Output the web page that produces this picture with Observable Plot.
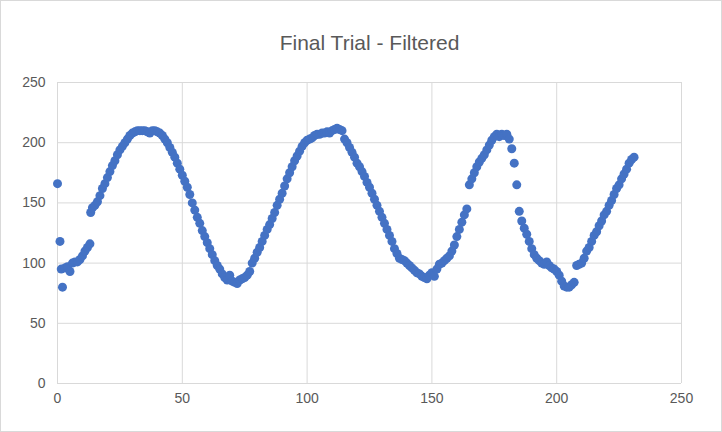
<!DOCTYPE html>
<html>
<head>
<meta charset="utf-8">
<script src="https://cdn.jsdelivr.net/npm/d3@7"></script>
<script src="https://cdn.jsdelivr.net/npm/@observablehq/plot@0.6"></script>
<style>
  body { margin: 0; background: #fff; }
  #chart { width: 720px; height: 430px; border: 1px solid #d9d9d9; }
</style>
</head>
<body>
<div id="chart"></div>
<script>
const title = "Final Trial - Filtered";
const xTicks = [0, 50, 100, 150, 200, 250];
const yTicks = [0, 50, 100, 150, 200, 250];

// sample index and filtered reading
const xs = [0, 1, 1.5, 2, 3, 4, 5, 6, 7, 8, 9, 10, 11, 12, 13, 13.3, 14, 15, 16, 17, 18, 19, 20,
  21, 22, 23, 24, 25, 26, 27, 28, 29, 30, 31, 32, 33, 34, 35, 36, 37, 38, 39, 40,
  41, 42, 43, 44, 45, 46, 47, 48, 49, 50, 51, 52, 53, 54, 55, 56, 57, 58, 59, 60,
  61, 62, 63, 64, 65, 66, 67, 68, 69, 70, 71, 72, 73, 74, 75, 76, 77, 78, 79, 80,
  81, 82, 83, 84, 85, 86, 87, 88, 89, 90, 91, 92, 93, 94, 95, 96, 97, 98, 99, 100,
  101, 102, 103, 104, 105, 106, 107, 108, 109, 110, 111, 112, 113, 114, 115, 116, 117, 118, 119, 120,
  121, 122, 123, 124, 125, 126, 127, 128, 129, 130, 131, 132, 133, 134, 135, 136, 137, 138, 139, 140,
  141, 142, 143, 144, 145, 146, 147, 148, 149, 150, 151, 152, 153, 154, 155, 156, 157, 158, 159, 160,
  161, 162, 163, 164, 165, 166, 167, 168, 169, 170, 171, 172, 173, 174, 175, 176, 177, 178, 179, 180,
  181, 182, 183, 184, 185, 186, 187, 188, 189, 190, 191, 192, 193, 194, 195, 196, 197, 198, 199, 200,
  201, 202, 203, 204, 205, 206, 207, 208, 209, 210, 211, 212, 213, 214, 215, 216, 217, 218, 219, 220,
  221, 222, 223, 224, 225, 226, 227, 228, 229, 230, 231];
const ys = [166, 118, 95, 80, 96, 97, 93, 100, 101, 101, 103, 106, 110, 113, 116, 142, 146, 148, 151, 156, 162, 166, 171,
  176, 181, 185, 190, 194, 197, 200, 203, 206, 208, 209, 210, 210, 210, 210, 209, 208, 210, 210, 209,
  208, 206, 203, 200, 196, 192, 188, 183, 178, 173, 168, 163, 157, 150, 144, 138, 133, 127, 122, 117,
  112, 107, 102, 98, 95, 91, 88, 86, 90, 85, 84, 83, 86, 87, 88, 90, 93, 100, 104, 109,
  113, 118, 123, 128, 132, 137, 142, 148, 153, 158, 164, 170, 175, 180, 185, 189, 193, 197, 200, 202,
  203, 204, 206, 207, 207, 208, 208, 209, 208, 210, 211, 212, 211, 210, 203, 200, 196, 192, 188, 183,
  180, 176, 172, 167, 163, 158, 153, 148, 143, 138, 133, 128, 123, 118, 112, 108, 104, 103, 102, 100,
  98, 96, 94, 92, 91, 89, 88, 87, 90, 92, 89, 95, 99, 100, 102, 104, 106, 110, 115, 122,
  128, 134, 140, 145, 165, 170, 175, 180, 184, 187, 190, 194, 198, 202, 205, 207, 205, 207, 206, 207,
  203, 195, 183, 165, 143, 135, 129, 124, 118, 112, 107, 104, 102, 100, 99, 101, 98, 96, 95, 93,
  90, 85, 81, 80, 80, 82, 84, 98, 99, 100, 104, 110, 113, 118, 123, 126, 131, 135, 140, 143,
  148, 152, 157, 162, 165, 170, 174, 178, 183, 186, 188];

const points = xs.map((x, i) => ({x, y: ys[i]}));

document.getElementById("chart").append(
  Plot.plot({
    width: 720,
    height: 430,
    marginLeft: 56,
    marginRight: 40,
    marginTop: 81,
    marginBottom: 48,
    style: {fontFamily: "Liberation Sans, Arial, sans-serif", fontSize: "14px", color: "#595959"},
    x: {domain: [0, 250], ticks: xTicks, label: null, tickSize: 0, tickPadding: 10},
    y: {domain: [0, 250], ticks: yTicks, label: null, tickSize: 0, tickPadding: 12},
    marks: [
      Plot.gridX(xTicks, {stroke: "#d9d9d9", strokeOpacity: 1}),
      Plot.gridY(yTicks, {stroke: "#d9d9d9", strokeOpacity: 1}),
      Plot.dot(points, {x: "x", y: "y", r: 4.5, fill: "#4472c4", stroke: "none"}),
      Plot.text([title], {frameAnchor: "top", dy: -47, fontSize: 21, fill: "#595959"})
    ]
  })
);
</script>
</body>
</html>
